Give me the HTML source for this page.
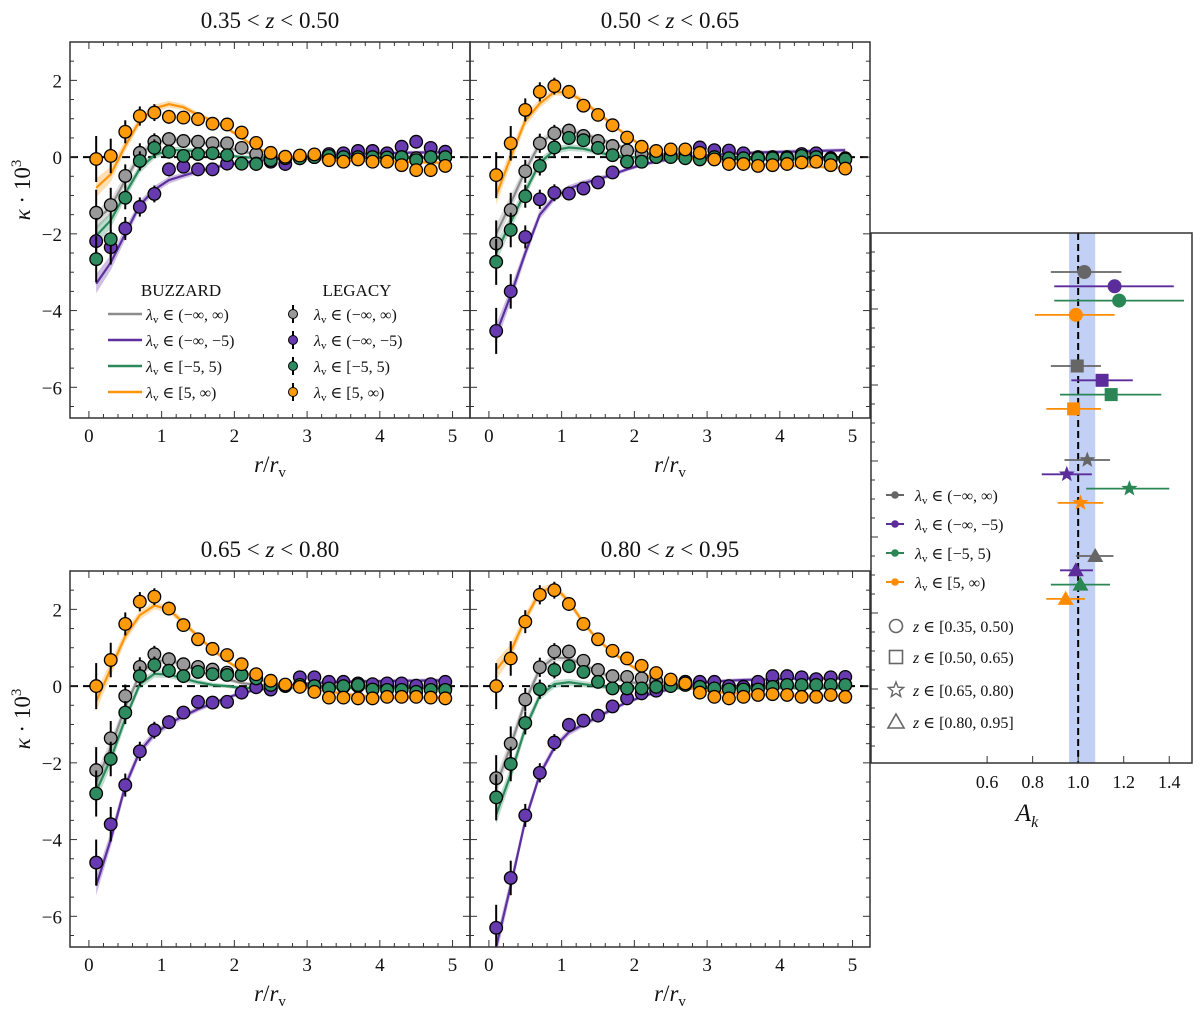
<!DOCTYPE html>
<html><head><meta charset="utf-8"><style>
body{margin:0;background:#fff;}
svg text{font-family:"Liberation Serif","DejaVu Serif",serif;fill:#111;}
</style></head><body>
<svg id="fig" width="1200" height="1016" xmlns="http://www.w3.org/2000/svg"></svg>
<script>
// ---------- data ----------
const rBins=[0.1,0.3,0.5,0.7,0.9,1.1,1.3,1.5,1.7,1.9,2.1,2.3,2.5,2.7,2.9,3.1,3.3,3.5,3.7,3.9,4.1,4.3,4.5,4.7,4.9];
const dataErr=[0.6,0.45,0.3,0.25,0.22,0.18,0.16,0.15,0.14,0.13,0.12,0.11,0.1,0.1,0.1,0.1,0.1,0.1,0.1,0.1,0.1,0.1,0.1,0.1,0.1];
const bandHalf=[0.25,0.2,0.15,0.12,0.1,0.09,0.08,0.07,0.06,0.05,0.05,0.05,0.05,0.05,0.05,0.05,0.05,0.05,0.05,0.05,0.05,0.05,0.05,0.05,0.05];
const seriesNames=["all","void","mid","wall"];
// panel 1
const p1GrayData=[-1.45,-1.25,-0.49,0.11,0.4,0.47,0.42,0.4,0.36,0.36,0.24,0.08,-0.03,-0.03,-0.03,0,0,0,0,-0.03,0,0,-0.03,0,0];
const p1PurpleData=[-2.19,-2.35,-1.86,-1.3,-0.96,-0.32,-0.25,-0.32,-0.32,-0.17,-0.17,-0.17,-0.12,-0.18,0,0,0.08,0.1,0.16,0.16,0.1,0.27,0.4,0.24,0.14];
const p1GreenData=[-2.66,-2.14,-1.06,-0.1,0.24,0.14,0.03,0.08,0.1,0.05,-0.17,-0.18,-0.08,-0.03,-0.03,0,0.03,0,0,0,-0.01,0,-0.08,0,0];
const p1OrangeData=[-0.05,0.03,0.66,1.07,1.16,1.05,1.03,0.99,0.87,0.85,0.64,0.37,0.11,0.01,0.04,0.07,-0.08,-0.12,-0.06,-0.12,-0.12,-0.21,-0.34,-0.34,-0.23];
const p1GrayModel=[-1.65,-1.3,-0.6,0.05,0.38,0.45,0.45,0.4,0.33,0.25,0.15,0.07,0.02,0,0,0,0,0,0,0,0,0,0,0,0];
const p1PurpleModel=[-3.3,-2.75,-2.0,-1.25,-0.85,-0.6,-0.48,-0.37,-0.28,-0.2,-0.15,-0.1,-0.06,-0.03,0,0.03,0.05,0.07,0.08,0.09,0.1,0.11,0.12,0.12,0.13];
const p1GreenModel=[-2.05,-1.65,-0.95,-0.3,0.05,0.18,0.18,0.15,0.1,0.05,0,-0.02,-0.02,-0.02,-0.02,-0.02,-0.02,-0.02,-0.02,-0.02,-0.02,-0.02,-0.02,-0.02,-0.02];
const p1OrangeModel=[-0.8,-0.45,0.3,0.95,1.27,1.38,1.3,1.1,0.95,0.75,0.5,0.25,0.08,0,-0.03,-0.05,-0.07,-0.08,-0.09,-0.1,-0.11,-0.12,-0.13,-0.14,-0.15];
// panel 2
const p2GrayData=[-2.25,-1.38,-0.37,0.36,0.62,0.69,0.55,0.42,0.29,0.17,0.08,0.1,0.05,0,-0.03,-0.03,-0.03,-0.03,-0.03,-0.03,-0.03,0,0,-0.03,-0.03];
const p2PurpleData=[-4.53,-3.5,-2.08,-1.1,-0.93,-0.95,-0.82,-0.66,-0.4,-0.12,-0.12,0,0.05,0.1,0.25,0.18,0.17,0.1,0,0,0,0.08,0.1,-0.03,-0.06];
const p2GreenData=[-2.73,-1.9,-1.02,-0.23,0.25,0.5,0.44,0.24,0.05,-0.12,-0.12,0,0,-0.03,-0.06,0,-0.03,-0.03,-0.03,-0.03,-0.03,0.03,0,-0.06,-0.06];
const p2OrangeData=[-0.47,0.36,1.23,1.7,1.85,1.7,1.34,1.1,0.83,0.51,0.27,0.16,0.2,0.2,0.11,-0.06,-0.18,-0.18,-0.23,-0.21,-0.18,-0.14,-0.12,-0.21,-0.3];
const p2GrayModel=[-2.0,-1.2,-0.35,0.35,0.65,0.68,0.6,0.48,0.35,0.22,0.12,0.05,0.02,0,-0.01,-0.02,-0.03,-0.03,-0.04,-0.04,-0.05,-0.05,-0.05,-0.05,-0.05];
const p2PurpleModel=[-4.6,-3.6,-2.5,-1.5,-1.05,-0.82,-0.68,-0.58,-0.45,-0.32,-0.2,-0.12,-0.05,0,0.03,0.06,0.08,0.1,0.12,0.13,0.14,0.15,0.16,0.17,0.18];
const p2GreenModel=[-2.5,-1.7,-0.9,-0.15,0.18,0.25,0.22,0.12,0.05,0,-0.02,-0.03,-0.03,-0.03,-0.04,-0.04,-0.05,-0.05,-0.05,-0.05,-0.05,-0.05,-0.05,-0.05,-0.05];
const p2OrangeModel=[-1.0,0.0,0.95,1.4,1.7,1.68,1.45,1.15,0.85,0.55,0.3,0.12,0.03,-0.02,-0.06,-0.1,-0.13,-0.16,-0.18,-0.2,-0.22,-0.24,-0.25,-0.27,-0.28];
// panel 3
const p3GrayData=[-2.19,-1.36,-0.26,0.5,0.83,0.7,0.57,0.5,0.43,0.35,0.3,0.2,0.07,0.03,0.03,0,-0.02,-0.02,0,0,0,-0.02,-0.02,-0.06,-0.06];
const p3PurpleData=[-4.6,-3.6,-2.58,-1.7,-1.15,-0.94,-0.69,-0.41,-0.43,-0.41,-0.17,-0.03,-0.09,0,0.23,0.23,0.11,0.11,0.07,0.05,0.07,0.07,0.01,0.05,0.11];
const p3GreenData=[-2.8,-1.9,-0.69,0.26,0.55,0.4,0.26,0.37,0.31,0.29,0.29,0.2,0.03,0.03,0.03,0,-0.06,0,0.03,-0.09,-0.1,-0.1,-0.15,-0.1,-0.1];
const p3OrangeData=[0,0.68,1.62,2.2,2.33,2.02,1.59,1.22,0.97,0.81,0.57,0.31,0.14,0.04,-0.02,-0.15,-0.3,-0.3,-0.32,-0.32,-0.28,-0.28,-0.28,-0.3,-0.32];
const p3GrayModel=[-2.5,-1.6,-0.55,0.3,0.65,0.68,0.55,0.4,0.28,0.18,0.08,0.03,0,0,0,0,0,0,0,0,0,0,0,0,0];
const p3PurpleModel=[-5.2,-4.0,-2.6,-1.7,-1.25,-0.98,-0.78,-0.6,-0.45,-0.3,-0.18,-0.1,-0.05,0,0.05,0.08,0.1,0.11,0.12,0.13,0.13,0.14,0.14,0.15,0.15];
const p3GreenModel=[-2.75,-1.9,-0.85,0.05,0.32,0.3,0.2,0.1,0.03,0,-0.05,-0.05,-0.03,-0.03,-0.04,-0.05,-0.05,-0.05,-0.05,-0.05,-0.05,-0.05,-0.05,-0.05,-0.05];
const p3OrangeModel=[-0.4,0.45,1.3,1.85,2.1,2.0,1.65,1.3,0.95,0.65,0.4,0.2,0.08,0.02,-0.02,-0.08,-0.14,-0.2,-0.25,-0.28,-0.3,-0.3,-0.3,-0.3,-0.3];
// panel 4
const p4GrayData=[-2.4,-1.5,-0.35,0.49,0.9,0.9,0.66,0.42,0.26,0.24,0.2,0.13,0.03,0.11,-0.02,-0.06,-0.06,-0.02,0.03,0.07,0.03,0.03,0.03,0.03,0.03];
const p4PurpleData=[-6.3,-5.0,-3.37,-2.26,-1.47,-1.01,-0.9,-0.77,-0.53,-0.32,-0.19,-0.12,0.03,0.11,0.11,0.11,0,-0.02,0.11,0.26,0.26,0.23,0.18,0.23,0.24];
const p4GreenData=[-2.9,-2.03,-0.96,-0.08,0.42,0.52,0.37,0.11,-0.06,-0.06,-0.06,-0.02,0,0.03,-0.02,-0.06,-0.09,-0.09,-0.09,-0.02,0.03,0.03,0.03,0.03,0.03];
const p4OrangeData=[0,0.72,1.68,2.38,2.5,2.14,1.62,1.22,0.92,0.72,0.53,0.34,0.17,0.07,-0.17,-0.28,-0.32,-0.28,-0.23,-0.21,-0.23,-0.28,-0.28,-0.23,-0.28];
const p4GrayModel=[-2.6,-1.55,-0.4,0.45,0.75,0.72,0.55,0.38,0.22,0.12,0.05,0.02,0,0,0,0,0,0,0,0,0,0,0,0,0];
const p4PurpleModel=[-6.8,-5.2,-3.5,-2.3,-1.6,-1.2,-1.0,-0.8,-0.6,-0.42,-0.28,-0.16,-0.08,0,0.08,0.12,0.14,0.16,0.17,0.18,0.19,0.2,0.2,0.2,0.2];
const p4GreenModel=[-3.35,-2.3,-1.1,-0.25,0.05,0.1,0.05,0,-0.03,-0.05,-0.05,-0.05,-0.05,-0.05,-0.05,-0.05,-0.05,-0.05,-0.05,-0.05,-0.05,-0.05,-0.05,-0.05,-0.05];
const p4OrangeModel=[0.42,0.9,1.75,2.45,2.6,2.2,1.65,1.2,0.88,0.6,0.35,0.15,0.05,-0.02,-0.1,-0.15,-0.18,-0.2,-0.22,-0.23,-0.24,-0.25,-0.25,-0.25,-0.25];
// A_k panel
const akGroupNames=["z 0.35-0.50","z 0.50-0.65","z 0.65-0.80","z 0.80-0.95"];
const akGrayVal=[1.027,0.996,1.04,1.075];
const akGrayLo=[0.88,0.88,0.94,0.99];
const akGrayHi=[1.19,1.10,1.14,1.155];
const akPurpleVal=[1.16,1.105,0.95,0.99];
const akPurpleLo=[0.895,0.97,0.84,0.92];
const akPurpleHi=[1.42,1.24,1.06,1.065];
const akGreenVal=[1.18,1.145,1.225,1.01];
const akGreenLo=[0.895,0.92,1.035,0.88];
const akGreenHi=[1.465,1.365,1.40,1.14];
const akOrangeVal=[0.99,0.98,1.01,0.945];
const akOrangeLo=[0.81,0.86,0.91,0.86];
const akOrangeHi=[1.16,1.10,1.11,1.03];
const akBandLo=0.96, akBandHi=1.075;
const akTicks=[0.6,0.8,1.0,1.2,1.4];

// ---------- drawing ----------
const NS="http://www.w3.org/2000/svg";
const svg=document.getElementById("fig");
function mk(tag,attrs,parent){const e=document.createElementNS(NS,tag);for(const k in attrs)e.setAttribute(k,attrs[k]);(parent||svg).appendChild(e);return e;}
const COL={gray:"#8c8c8c",purple:"#5e2f9e",green:"#2b8a5c",orange:"#ff9408"};
const DCOL={gray:"#999999",purple:"#673ab0",green:"#2e8b60",orange:"#ff9a0a"};

function drawPanel(px,py,title,showY,sets,pname){
  const W=400,H=376, xmin=-0.26,xmax=5.24,ymin=-6.8,ymax=3.0;
  const X=v=>px+(v-xmin)/(xmax-xmin)*W;
  const Y=v=>py+(ymax-v)/(ymax-ymin)*H;
  const g=mk("g",{});
  
  
  const cp=mk("clipPath",{id:"cp"+pname},g);
  mk("rect",{x:px,y:py,width:W,height:H},cp);
  const inner=mk("g",{"clip-path":"url(#cp"+pname+")"},g);
  // zero line
  const zl=mk("line",{x1:px,x2:px+W,y1:Y(0),y2:Y(0),stroke:"#000","stroke-width":2,"stroke-dasharray":"8,5"},inner);
  
  
  const order=["gray","purple","green","orange"];
  // models
  order.forEach(c=>{
    const m=sets[c+"Model"];
    let up="",dn="";
    rBins.forEach((r,i)=>{up+=(i?"L":"M")+X(r)+","+Y(m[i]+bandHalf[i]);});
    for(let i=rBins.length-1;i>=0;i--) dn+="L"+X(rBins[i])+","+Y(m[i]-bandHalf[i]);
    const b=mk("path",{d:up+dn+"Z",fill:COL[c],opacity:0.3},inner);
    
    
    let d="";rBins.forEach((r,i)=>{d+=(i?"L":"M")+X(r)+","+Y(m[i]);});
    const l=mk("path",{d:d,fill:"none",stroke:COL[c],"stroke-width":2.2},inner);
    
    
  });
  // data
  order.forEach(c=>{
    const dat=sets[c+"Data"];
    rBins.forEach((r,i)=>{
      const e=mk("line",{x1:X(r),x2:X(r),y1:Y(dat[i]-dataErr[i]),y2:Y(dat[i]+dataErr[i]),stroke:"#000","stroke-width":2},inner);
      
      
      const p=mk("circle",{cx:X(r),cy:Y(dat[i]),r:6.3,fill:DCOL[c],stroke:"#000","stroke-width":1.3},inner);
      
      
    });
  });
  // frame
  const fr=mk("rect",{x:px,y:py,width:W,height:H,fill:"none",stroke:"#333","stroke-width":1.5},g);
  
  
  // ticks
  for(let k=0;k<=25;k++){const v=k*0.2,x=X(v),maj=(k%5===0),L=maj?7:4;
    mk("line",{x1:x,x2:x,y1:py+H,y2:py+H-L,stroke:"#333","stroke-width":1},g);
    mk("line",{x1:x,x2:x,y1:py,y2:py+L,stroke:"#333","stroke-width":1},g);
    if(maj){const t=mk("text",{x:x,y:py+H+24,"text-anchor":"middle","font-size":19},g);t.textContent=String(v);
      }
  }
  for(let k=-13;k<=6;k++){const v=k*0.5,y=Y(v),maj=(k%4===0),L=maj?7:4;
    mk("line",{x1:px,x2:px+L,y1:y,y2:y,stroke:"#333","stroke-width":1},g);
    mk("line",{x1:px+W,x2:px+W-L,y1:y,y2:y,stroke:"#333","stroke-width":1},g);
    if(maj&&showY){const t=mk("text",{x:px-8,y:y+7,"text-anchor":"end","font-size":19},g);t.textContent=(v<0?"\u2212"+(-v):String(v));
      }
  }
  const tt=mk("text",{x:px+W/2,y:py-14,"text-anchor":"middle","font-size":23},g);
  tt.innerHTML='0'+title[0]+' &lt; <tspan font-style="italic">z</tspan> &lt; 0'+title[1];
  
  const xl=mk("text",{x:px+W/2,y:py+H+54,"text-anchor":"middle","font-size":23},g);
  xl.innerHTML='<tspan font-style="italic">r</tspan>/<tspan font-style="italic">r</tspan><tspan font-size="15" dy="5">v</tspan>';
  
  if(showY){const yl=mk("text",{x:0,y:0,"text-anchor":"middle","font-size":23,transform:"translate(30,"+(py+H/2-40)+") rotate(-90)"},g);
    yl.innerHTML='<tspan font-style="italic">κ</tspan> · 10<tspan font-size="15" dy="-9">3</tspan>';
    }
}
drawPanel(70,42,[".35",".50"],true,{grayData:p1GrayData,purpleData:p1PurpleData,greenData:p1GreenData,orangeData:p1OrangeData,grayModel:p1GrayModel,purpleModel:p1PurpleModel,greenModel:p1GreenModel,orangeModel:p1OrangeModel},"panel-z1");
drawPanel(470,42,[".50",".65"],false,{grayData:p2GrayData,purpleData:p2PurpleData,greenData:p2GreenData,orangeData:p2OrangeData,grayModel:p2GrayModel,purpleModel:p2PurpleModel,greenModel:p2GreenModel,orangeModel:p2OrangeModel},"panel-z2");
drawPanel(70,571,[".65",".80"],true,{grayData:p3GrayData,purpleData:p3PurpleData,greenData:p3GreenData,orangeData:p3OrangeData,grayModel:p3GrayModel,purpleModel:p3PurpleModel,greenModel:p3GreenModel,orangeModel:p3OrangeModel},"panel-z3");
drawPanel(470,571,[".80",".95"],false,{grayData:p4GrayData,purpleData:p4PurpleData,greenData:p4GreenData,orangeData:p4OrangeData,grayModel:p4GrayModel,purpleModel:p4PurpleModel,greenModel:p4GreenModel,orangeModel:p4OrangeModel},"panel-z4");

// legend in panel 1
(function(){
  const g=mk("g",{});
  
  
  const h1=mk("text",{x:181,y:296,"text-anchor":"middle","font-size":17},g);h1.textContent="BUZZARD";
  
  const h2=mk("text",{x:357,y:296,"text-anchor":"middle","font-size":17},g);h2.textContent="LEGACY";
  
  const labs=["(−∞, ∞)","(−∞, −5)","[−5, 5)","[5, ∞)"];
  const cs=["gray","purple","green","orange"];
  const ys=[314,340,366,392];
  cs.forEach((c,i)=>{
    const l=mk("line",{x1:108,x2:142,y1:ys[i],y2:ys[i],stroke:COL[c],"stroke-width":2.5},g);
    
    const t=mk("text",{x:146,y:ys[i]+6,"font-size":16},g);
    t.innerHTML='<tspan font-style="italic">λ</tspan><tspan font-size="11" dy="3">v</tspan><tspan dy="-3"> ∈ '+labs[i]+'</tspan>';
    
    mk("line",{x1:293,x2:293,y1:ys[i]-9,y2:ys[i]+9,stroke:"#000","stroke-width":2},g);
    const p=mk("circle",{cx:293,cy:ys[i],r:4.5,fill:DCOL[c],stroke:"#000","stroke-width":1},g);
    
    const t2=mk("text",{x:314,y:ys[i]+6,"font-size":16},g);
    t2.innerHTML='<tspan font-style="italic">λ</tspan><tspan font-size="11" dy="3">v</tspan><tspan dy="-3"> ∈ '+labs[i]+'</tspan>';
    
  });
})();

// A_k panel
(function(){
  const px=871,py=233,W=321,H=530,xmin=0.09,xmax=1.5;
  const X=v=>px+(v-xmin)/(xmax-xmin)*W;
  const g=mk("g",{});
  
  
  const band=mk("rect",{x:X(akBandLo),y:py,width:X(akBandHi)-X(akBandLo),height:H,fill:"#6f8fe6",opacity:0.42},g);
  
  const dl=mk("line",{x1:X(1),x2:X(1),y1:py,y2:py+H,stroke:"#000","stroke-width":2,"stroke-dasharray":"7,4"},g);
  
  const groupY0=[272,366,460,556], dy=14.3;
  const cs=["gray","purple","green","orange"];
  const PC={gray:"#666666",purple:"#5b2c9a",green:"#2a8755",orange:"#ff8c00"};
  const vals={gray:[akGrayVal,akGrayLo,akGrayHi],purple:[akPurpleVal,akPurpleLo,akPurpleHi],green:[akGreenVal,akGreenLo,akGreenHi],orange:[akOrangeVal,akOrangeLo,akOrangeHi]};
  akGroupNames.forEach((gn,gi)=>{
    cs.forEach((c,ci)=>{
      const y=groupY0[gi]+ci*dy, v=vals[c];
      const e=mk("line",{x1:X(v[1][gi]),x2:X(v[2][gi]),y1:y,y2:y,stroke:PC[c],"stroke-width":1.8},g);
      
      const x=X(v[0][gi]);let m;
      if(gi===0) m=mk("circle",{cx:x,cy:y,r:7,fill:PC[c]},g);
      else if(gi===1) m=mk("rect",{x:x-6.5,y:y-6.5,width:13,height:13,fill:PC[c]},g);
      else if(gi===2){let pts="";for(let k=0;k<10;k++){const a=-Math.PI/2+k*Math.PI/5,rr=k%2?3.6:8.5;pts+=(x+rr*Math.cos(a))+","+(y+rr*Math.sin(a))+" ";}m=mk("polygon",{points:pts,fill:PC[c]},g);}
      else m=mk("polygon",{points:(x)+","+(y-8)+" "+(x+8)+","+(y+6)+" "+(x-8)+","+(y+6),fill:PC[c]},g);
      
    });
  });
  const fr=mk("rect",{x:px,y:py,width:W,height:H,fill:"none",stroke:"#333","stroke-width":1.5},g);
  
  for(let yy=py+19;yy<py+H;yy+=19) mk("line",{x1:px,x2:px+(((yy-py)/19)%4===0?7:4),y1:yy,y2:yy,stroke:"#333","stroke-width":1},g);
  akTicks.forEach(t=>{mk("line",{x1:X(t),x2:X(t),y1:py+H,y2:py+H-7,stroke:"#333","stroke-width":1},g);
    const tl=mk("text",{x:X(t),y:py+H+25,"text-anchor":"middle","font-size":18},g);tl.textContent=t.toFixed(1);
    });
  const xl=mk("text",{x:1027,y:py+H+58,"text-anchor":"middle","font-size":25,"font-style":"italic"},g);
  xl.innerHTML='A<tspan font-size="16" dy="6">k</tspan>';
  
  // legend
  const labs=["(−∞, ∞)","(−∞, −5)","[−5, 5)","[5, ∞)"];
  const ly=[495,524,553,582];
  cs.forEach((c,i)=>{
    const l=mk("line",{x1:886,x2:904,y1:ly[i],y2:ly[i],stroke:PC[c],"stroke-width":2},g);
    
    mk("circle",{cx:895,cy:ly[i],r:3.8,fill:PC[c]},g);
    const t=mk("text",{x:915,y:ly[i]+6,"font-size":16},g);
    t.innerHTML='<tspan font-style="italic">λ</tspan><tspan font-size="11" dy="3">v</tspan><tspan dy="-3"> ∈ '+labs[i]+'</tspan>';
    
  });
  const zl=["[0.35, 0.50)","[0.50, 0.65)","[0.65, 0.80)","[0.80, 0.95]"];
  const zy=[626,657,690,722];
  zl.forEach((s,i)=>{
    const x=896,y=zy[i];let m;
    if(i===0) m=mk("circle",{cx:x,cy:y,r:6.5,fill:"none",stroke:"#666","stroke-width":1.6},g);
    else if(i===1) m=mk("rect",{x:x-6.5,y:y-6.5,width:13,height:13,fill:"none",stroke:"#666","stroke-width":1.6},g);
    else if(i===2){let pts="";for(let k=0;k<10;k++){const a=-Math.PI/2+k*Math.PI/5,rr=k%2?3.4:8;pts+=(x+rr*Math.cos(a))+","+(y+rr*Math.sin(a))+" ";}m=mk("polygon",{points:pts,fill:"none",stroke:"#666","stroke-width":1.4},g);}
    else m=mk("polygon",{points:x+","+(y-8)+" "+(x+8)+","+(y+6)+" "+(x-8)+","+(y+6),fill:"none",stroke:"#666","stroke-width":1.6},g);
    
    const t=mk("text",{x:913,y:y+6,"font-size":16},g);
    t.innerHTML='<tspan font-style="italic">z</tspan> ∈ '+s;
    
  });
})();
</script>
</body></html>
